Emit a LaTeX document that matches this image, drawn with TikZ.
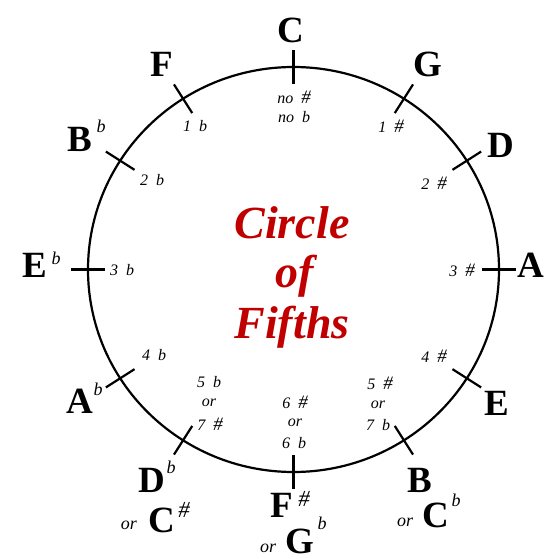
\documentclass[tikz,border=0pt]{standalone}
\usepackage{fontspec}
\setmainfont{Liberation Serif}
\usetikzlibrary{calc}
\definecolor{cofred}{RGB}{192,0,0}
\newcommand{\kcnt}[2]{#1\hspace{8pt}#2}
\newcommand{\shp}{{\fontsize{19}{19}\selectfont\#}}
\begin{document}
\begin{tikzpicture}[x=1pt,y=-1pt,
  key/.style={inner sep=0pt, font=\fontsize{37}{37}\selectfont\bfseries},
  acc/.style={inner sep=0pt, font=\fontsize{18}{18}\selectfont\itshape},
  accs/.style={inner sep=0pt, font=\fontsize{23}{23}\selectfont\itshape},
  cnt/.style={inner sep=0pt, font=\fontsize{16}{16}\selectfont\itshape},
  orw/.style={inner sep=0pt, font=\fontsize{18}{18}\selectfont\itshape},
  title/.style={inner sep=0pt, anchor=base, text=cofred, font=\fontsize{46}{46}\selectfont\bfseries\itshape},
  tickline/.style={line width=2.2pt},
  ring/.style={line width=2.2pt}]
\useasboundingbox (0,0) rectangle (545,559);
\fill[white] (0,0) rectangle (545,559);
\coordinate (O) at (293.5,269.5);
\draw[ring] (O) ellipse [x radius=205.5pt, y radius=202.5pt];
\foreach \a/\n in {90/C,57.5/G,32.5/D,0/A,-32.5/E,-57.5/B,-90/Fs,-122.5/Db,-147.5/Ab,180/Eb,147.5/Bb,122.5/F}{
  \coordinate (t\n) at ($(O)+(\a:205.5pt and 202.5pt)$);
  \draw[tickline] ($(t\n)+(\a+180:17pt)$) -- ($(t\n)+(\a:17pt)$);
}
% key names
\node[key] (kC) at (291,30) {C};
\node[key] (kF) at (162,64) {F};
\node[key] (kG) at (428,64) {G};
\node[key] (kD) at (501,145) {D};
\node[key] (kA) at (531,265) {A};
\node[key] (kE) at (497,403) {E};
\node[key] (kB) at (420,480) {B};
\node[orw] (oCb) at (405,522) {or};
\node[key] (kCb) at (436,515) {C};
\node[acc] (sCb) at (456,500) {b};
\node[key] (kFs) at (282,505) {F};
\node[accs] (sFs) at (304,499) {\#};
\node[orw] (oGb) at (268,548) {or};
\node[key] (kGb) at (300,541) {G};
\node[acc] (sGb) at (322,523) {b};
\node[key] (kDb) at (152,480) {D};
\node[acc] (sDb) at (171,467) {b};
\node[orw] (oCs) at (129,525) {or};
\node[key] (kCs) at (162,520) {C};
\node[accs] (sCs) at (184,510) {\#};
\node[key] (kAb) at (80,401) {A};
\node[acc] (sAb) at (98,389) {b};
\node[key] (kEb) at (35,265) {E};
\node[acc] (sEb) at (56,258) {b};
\node[key] (kBb) at (80,139) {B};
\node[acc] (sBb) at (101,126) {b};
% counts
\node[cnt] (n0a) at (294,97) {\kcnt{no}{\shp}};
\node[cnt] (n0b) at (294,117) {\kcnt{no}{b}};
\node[cnt] (n1b) at (195,126) {\kcnt{1}{b}};
\node[cnt] (n2b) at (152,180) {\kcnt{2}{b}};
\node[cnt] (n3b) at (122,270) {\kcnt{3}{b}};
\node[cnt] (n4b) at (154,355) {\kcnt{4}{b}};
\node[cnt] (n5b) at (209,382) {\kcnt{5}{b}};
\node[cnt] (n5o) at (209,403) {or};
\node[cnt] (n7s) at (210,424) {\kcnt{7}{\shp}};
\node[cnt] (n1s) at (391,126) {\kcnt{1}{\shp}};
\node[cnt] (n2s) at (434,183) {\kcnt{2}{\shp}};
\node[cnt] (n3s) at (462,270) {\kcnt{3}{\shp}};
\node[cnt] (n4s) at (434,356) {\kcnt{4}{\shp}};
\node[cnt] (n5s) at (380,383) {\kcnt{5}{\shp}};
\node[cnt] (n5so) at (378,405) {or};
\node[cnt] (n7b) at (378,425) {\kcnt{7}{b}};
\node[cnt] (n6s) at (295,402) {\kcnt{6}{\shp}};
\node[cnt] (n6o) at (295,423) {or};
\node[cnt] (n6b) at (294,443) {\kcnt{6}{b}};
% title
\node[title] (tt1) at (292,238) {Circle};
\node[title] (tt2) at (295,287) {of};
\node[title] (tt3) at (292,338) {Fifths};
\end{tikzpicture}
\end{document}
